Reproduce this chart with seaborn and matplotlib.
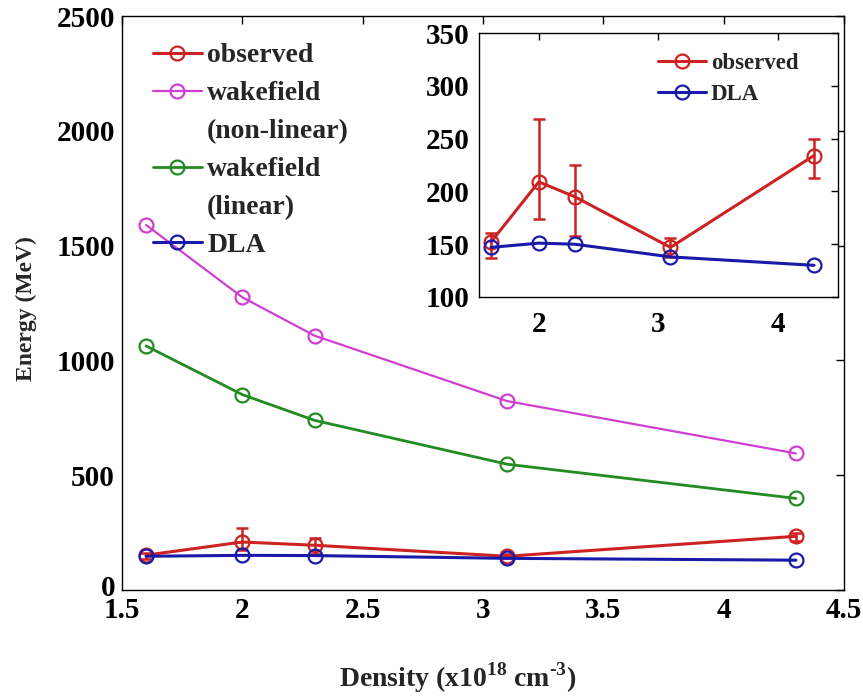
import numpy as np
import pandas as pd
import matplotlib
matplotlib.use("Agg")
import matplotlib.pyplot as plt
import matplotlib.transforms as mtransforms
from matplotlib.lines import Line2D
import seaborn as sns

sns.set_theme(style="white")
plt.rcParams['font.family'] = ['Liberation Serif', 'DejaVu Serif']
plt.rcParams['font.weight'] = 'bold'
plt.rcParams['mathtext.fontset'] = 'custom'
plt.rcParams['mathtext.rm'] = 'Liberation Serif:bold'
plt.rcParams['mathtext.bf'] = 'Liberation Serif:bold'

density = [1.6, 2.0, 2.3, 3.1, 4.3]
observed = [152, 209, 195, 147, 234]
obs_low = [137, 174, 158, 138, 213]
obs_high = [161, 269, 225, 156, 250]
wake_nonlinear = [1590, 1275, 1108, 823, 595]
wake_linear = [1063, 851, 739, 548, 399]
dla = [147, 151, 150, 138, 130]

c_obs = "#cc2222"
c_nl = "#d040d0"
c_lin = "#228b22"
c_dla = "#1a1aa8"

fig = plt.figure(figsize=(8.63, 6.98), dpi=100)
ax = fig.add_axes([0.1414, 0.1547, 0.8366, 0.8223])

def series(a, y, color, label, lw=1.6):
    df = pd.DataFrame({"x": density, "y": y})
    sns.lineplot(data=df, x="x", y="y", ax=a, color=color, marker="o",
                 markersize=10, markerfacecolor="none", markeredgecolor=color,
                 markeredgewidth=1.6, linewidth=lw, label=label)

def errbars(a):
    yerr = [np.array(observed) - np.array(obs_low), np.array(obs_high) - np.array(observed)]
    a.errorbar(density, observed, yerr=yerr, fmt="none", ecolor=c_obs,
               elinewidth=1.8, capsize=4, capthick=1.8)

errbars(ax)
series(ax, observed, c_obs, "observed", lw=2.2)
series(ax, wake_nonlinear, c_nl, "wakefield")
series(ax, wake_linear, c_lin, "wakefield", lw=2.0)
series(ax, dla, c_dla, "DLA", lw=2.2)

ax.set_xlim(1.5, 4.5)
ax.set_ylim(0, 2500)
ax.set_xticks([1.5, 2, 2.5, 3, 3.5, 4, 4.5])
ax.set_xticklabels(["1.5", "2", "2.5", "3", "3.5", "4", "4.5"])
ax.set_yticks([0, 500, 1000, 1500, 2000, 2500])
ax.tick_params(axis="both", direction="in", length=6, width=1, top=True, right=True,
               labelsize=21, pad=5, colors="black")
for lab in ax.get_xticklabels() + ax.get_yticklabels():
    lab.set_fontweight("bold")
# lift the "0" label slightly, as in the reference
zero_lab = ax.get_yticklabels()[0]
zero_lab.set_transform(zero_lab.get_transform() +
                       mtransforms.ScaledTranslation(0, 5 / 100, fig.dpi_scale_trans))
for s in ax.spines.values():
    s.set_color("black")
    s.set_linewidth(1)
ax.set_xlabel(r"Density (x10$^{\mathbf{18}}$ cm$^{\text{-}\mathbf{3}}$)", fontsize=20,
              fontweight="bold")
ax.xaxis.set_label_coords(0.465, -0.122)
ax.set_ylabel("Energy (MeV)", fontsize=17, fontweight="bold")
ax.yaxis.set_label_coords(-0.118, 0.49)

h, l = ax.get_legend_handles_labels()
blank = Line2D([], [], color="none")
handles = [h[0], h[1], blank, h[2], blank, h[3]]
labels = ["observed", "wakefield", "(non-linear)", "wakefield", "(linear)", "DLA"]
ax.legend(handles, labels, loc="upper left", bbox_to_anchor=(0.043, 0.953), frameon=False,
          prop={"family": "Liberation Serif", "weight": "bold", "size": 20},
          handlelength=1.75, handletextpad=0.2, labelspacing=0.45,
          borderaxespad=0, borderpad=0)

# inset
ins = fig.add_axes([0.555, 0.5745, 0.416, 0.3782])
ins.set_facecolor("white")
errbars(ins)
series(ins, observed, c_obs, "observed", lw=2.2)
series(ins, dla, c_dla, "DLA", lw=2.2)
ins.set_xlim(1.5, 4.5)
ins.set_ylim(100, 350)
ins.set_xticks([2, 3, 4])
ins.set_yticks([100, 150, 200, 250, 300, 350])
ins.tick_params(axis="both", direction="in", length=5, width=1, top=True, right=True,
                labelsize=21, pad=7, colors="black")
ins.tick_params(axis="x", pad=10)
for lab in ins.get_xticklabels() + ins.get_yticklabels():
    lab.set_fontweight("bold")
for s in ins.spines.values():
    s.set_color("black")
    s.set_linewidth(1)
ins.set_xlabel("")
ins.set_ylabel("")
ins.legend(loc="upper left", frameon=False,
           prop={"family": "Liberation Serif", "weight": "bold", "size": 16.5},
           handlelength=2.1, handletextpad=0.2, labelspacing=0.43,
           bbox_to_anchor=(0.499, 0.924), borderaxespad=0, borderpad=0)

fig.savefig("out.png", dpi=100, facecolor="white")
